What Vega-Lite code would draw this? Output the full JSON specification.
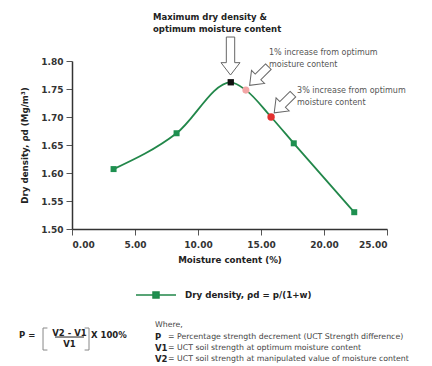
{
  "$schema": "https://vega.github.io/schema/vega-lite/v6.json",
  "autosize": "none",
  "width": 315,
  "height": 168,
  "padding": {"left": 72, "top": 61, "right": 45, "bottom": 137},
  "background": "white",
  "config": {
    "font": "DejaVu Sans",
    "view": {"stroke": null},
    "axis": {"grid": false, "labelOverlap": false, "domainColor": "#333", "domainWidth": 1.5, "tickColor": "#555", "tickSize": 6, "labelFont": "DejaVu Sans", "labelFontWeight": "bold", "labelFontSize": 9, "labelColor": "#333", "titleFont": "DejaVu Sans", "titleFontWeight": "bold", "titleFontSize": 8.7, "titleColor": "#222"}
  },
  "datasets": {
    "pts": [
      {"w": 3.3, "d": 1.607, "kind": "g"},
      {"w": 8.3, "d": 1.671, "kind": "g"},
      {"w": 12.6, "d": 1.762, "kind": "peak"},
      {"w": 13.8, "d": 1.748, "kind": "pink"},
      {"w": 15.8, "d": 1.700, "kind": "red"},
      {"w": 17.6, "d": 1.653, "kind": "g"},
      {"w": 22.4, "d": 1.530, "kind": "g"}
    ],
    "boldnotes": [
      {"x": 6.43, "y": 1.8786, "t": "Maximum dry density &"},
      {"x": 6.43, "y": 1.8571, "t": "optimum moisture content"},
      {"x": -4.21, "y": 1.3107, "t": "P ="},
      {"x": 1.51, "y": 1.3107, "t": "X 100%"},
      {"x": 6.59, "y": 1.3071, "t": "P"},
      {"x": 6.59, "y": 1.2875, "t": "V1"},
      {"x": 6.59, "y": 1.2679, "t": "V2"}
    ],
    "fraction": [
      {"x": -0.2, "y": 1.3143, "t": "V2 - V1"},
      {"x": -0.2, "y": 1.2946, "t": "V1"}
    ],
    "graynotes": [
      {"x": 15.63, "y": 1.8143, "t": "1% increase from optimum"},
      {"x": 15.63, "y": 1.7929, "t": "moisture content"},
      {"x": 17.86, "y": 1.7464, "t": "3% increase from optimum"},
      {"x": 17.86, "y": 1.7250, "t": "moisture content"}
    ],
    "where": [
      {"x": 6.59, "y": 1.3286, "t": "Where,"},
      {"x": 7.62, "y": 1.3071, "t": "= Percentage strength decrement (UCT Strength difference)"},
      {"x": 7.62, "y": 1.2875, "t": "= UCT soil strength at optimum moisture content"},
      {"x": 7.62, "y": 1.2679, "t": "= UCT soil strength at manipulated value of moisture content"}
    ],
    "segs": [
      {"x": -2.30, "y": 1.3232, "x2": -2.30, "y2": 1.2839},
      {"x": -2.30, "y": 1.3232, "x2": -1.95, "y2": 1.3232},
      {"x": -2.30, "y": 1.2839, "x2": -1.95, "y2": 1.2839},
      {"x": 1.35, "y": 1.3232, "x2": 1.35, "y2": 1.2839},
      {"x": 1.35, "y": 1.3232, "x2": 1.00, "y2": 1.3232},
      {"x": 1.35, "y": 1.2839, "x2": 1.00, "y2": 1.2839}
    ],
    "fracline": [
      {"x": -1.35, "y": 1.3071, "x2": 0.95, "y2": 1.3071}
    ],
    "downarrow": [{"x": 12.58, "y": 1.8089}],
    "diagarrows": [{"x": 14.84, "y": 1.7732}, {"x": 16.79, "y": 1.7241}]
  },
  "layer": [
    {
      "data": {"name": "pts"},
      "mark": {"type": "line", "interpolate": "monotone", "strokeWidth": 1.8},
      "encoding": {
        "x": {"field": "w", "type": "quantitative", "scale": {"domain": [0, 25], "nice": false, "zero": false}, "axis": {"values": [0, 5, 10, 15, 20, 25], "tickCount": 10, "format": ".2f", "title": "Moisture content (%)", "titlePadding": 6, "labelPadding": 5}},
        "y": {"field": "d", "type": "quantitative", "scale": {"domain": [1.5, 1.8], "nice": false, "zero": false}, "axis": {"values": [1.5, 1.55, 1.6, 1.65, 1.7, 1.75, 1.8], "tickCount": 10, "format": ".2f", "title": "Dry density, ρd (Mg/m³)", "titlePadding": 11, "labelPadding": 3}},
        "color": {"datum": "Dry density, ρd = p/(1+w)", "scale": {"range": ["#22874a"]}, "legend": {"title": null, "orient": "none", "legendX": 63, "legendY": 213, "symbolSize": 1600, "symbolStrokeWidth": 1.5, "labelFont": "DejaVu Sans", "labelFontWeight": "bold", "labelFontSize": 8.7, "labelColor": "#222", "labelOffset": 8, "symbolType": "M -1 0 L -0.15 0 M 0.15 0 L 1 0 M -0.15 -0.15 L 0.15 -0.15 L 0.15 0.15 L -0.15 0.15 Z", "symbolFillColor": "#1e9050"}}
      }
    },
    {
      "data": {"name": "pts"},
      "transform": [{"filter": "datum.kind == 'g'"}],
      "mark": {"type": "point", "shape": "square", "filled": true, "size": 36, "color": "#1e9050", "opacity": 1},
      "encoding": {"x": {"field": "w", "type": "quantitative"}, "y": {"field": "d", "type": "quantitative"}}
    },
    {
      "data": {"name": "pts"},
      "transform": [{"filter": "datum.kind == 'peak'"}],
      "mark": {"type": "point", "shape": "square", "filled": true, "size": 40, "color": "#111", "opacity": 1},
      "encoding": {"x": {"field": "w", "type": "quantitative"}, "y": {"field": "d", "type": "quantitative"}}
    },
    {
      "data": {"name": "pts"},
      "transform": [{"filter": "datum.kind == 'pink'"}],
      "mark": {"type": "point", "shape": "circle", "filled": true, "size": 50, "color": "#f2a6a6", "opacity": 1},
      "encoding": {"x": {"field": "w", "type": "quantitative"}, "y": {"field": "d", "type": "quantitative"}}
    },
    {
      "data": {"name": "pts"},
      "transform": [{"filter": "datum.kind == 'red'"}],
      "mark": {"type": "point", "shape": "circle", "filled": true, "size": 55, "color": "#e3302f", "opacity": 1},
      "encoding": {"x": {"field": "w", "type": "quantitative"}, "y": {"field": "d", "type": "quantitative"}}
    },
    {
      "data": {"name": "downarrow"},
      "mark": {"type": "point", "shape": "M -0.22 -1 L 0.22 -1 L 0.22 0.35 L 0.5 0.35 L 0 1 L -0.5 0.35 L -0.22 0.35 Z", "size": 1444, "filled": true, "fill": "white", "stroke": "#666", "strokeWidth": 1, "opacity": 1},
      "encoding": {"x": {"field": "x", "type": "quantitative"}, "y": {"field": "y", "type": "quantitative"}}
    },
    {
      "data": {"name": "diagarrows"},
      "mark": {"type": "point", "shape": "M -0.3 -1 L 0.3 -1 L 0.3 0.1 L 0.7 0.1 L 0 1 L -0.7 0.1 L -0.3 0.1 Z", "size": 700, "angle": 45, "filled": true, "fill": "white", "stroke": "#666", "strokeWidth": 1, "opacity": 1},
      "encoding": {"x": {"field": "x", "type": "quantitative"}, "y": {"field": "y", "type": "quantitative"}}
    },
    {
      "data": {"name": "boldnotes"},
      "mark": {"type": "text", "align": "left", "baseline": "middle", "fontWeight": "bold", "fontSize": 8.5, "color": "#222"},
      "encoding": {"x": {"field": "x", "type": "quantitative"}, "y": {"field": "y", "type": "quantitative"}, "text": {"field": "t"}}
    },
    {
      "data": {"name": "fraction"},
      "mark": {"type": "text", "align": "center", "baseline": "middle", "fontWeight": "bold", "fontSize": 8.5, "color": "#222"},
      "encoding": {"x": {"field": "x", "type": "quantitative"}, "y": {"field": "y", "type": "quantitative"}, "text": {"field": "t"}}
    },
    {
      "data": {"name": "graynotes"},
      "mark": {"type": "text", "align": "left", "baseline": "middle", "fontSize": 8, "color": "#555"},
      "encoding": {"x": {"field": "x", "type": "quantitative"}, "y": {"field": "y", "type": "quantitative"}, "text": {"field": "t"}}
    },
    {
      "data": {"name": "where"},
      "mark": {"type": "text", "align": "left", "baseline": "middle", "fontSize": 7.8, "color": "#444"},
      "encoding": {"x": {"field": "x", "type": "quantitative"}, "y": {"field": "y", "type": "quantitative"}, "text": {"field": "t"}}
    },
    {
      "data": {"name": "segs"},
      "mark": {"type": "rule", "color": "#888", "strokeWidth": 1},
      "encoding": {"x": {"field": "x", "type": "quantitative"}, "y": {"field": "y", "type": "quantitative"}, "x2": {"field": "x2"}, "y2": {"field": "y2"}}
    },
    {
      "data": {"name": "fracline"},
      "mark": {"type": "rule", "color": "#222", "strokeWidth": 1},
      "encoding": {"x": {"field": "x", "type": "quantitative"}, "y": {"field": "y", "type": "quantitative"}, "x2": {"field": "x2"}, "y2": {"field": "y2"}}
    }
  ]
}
